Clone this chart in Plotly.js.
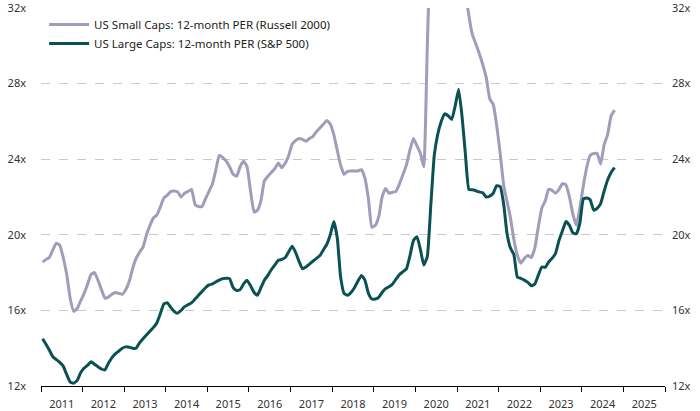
<!DOCTYPE html>
<html>
<head>
<meta charset="utf-8">
<script src="https://cdn.plot.ly/plotly-3.0.1.min.js"></script>
<style>html,body{margin:0;padding:0;background:#fff;}#chart{width:700px;height:411px;}</style>
</head>
<body>
<div id="chart"></div>
<script>
// Monthly observations, first month Jan 2011
const startYear = 2011;
const startMonth = 1;

const smallCapsName = "US Small Caps: 12-month PER (Russell 2000)";
const largeCapsName = "US Large Caps: 12-month PER (S&P 500)";

const smallCaps = [
  18.55,18.7,18.8,19.2,19.55,19.45,18.8,17.9,16.6,15.95,16.1,16.5,
  16.9,17.4,17.9,18.0,17.6,17.1,16.65,16.7,16.85,16.95,16.9,16.85,
  17.1,17.55,18.2,18.75,19.07,19.35,20.0,20.5,20.9,21.05,21.5,21.95,
  22.1,22.3,22.32,22.27,22.0,22.2,22.3,22.4,21.6,21.5,21.5,21.9,
  22.3,22.7,23.4,24.2,24.1,23.9,23.6,23.2,23.1,23.6,23.9,23.6,
  22.3,21.2,21.3,21.8,22.85,23.1,23.3,23.5,23.8,23.55,23.8,24.2,
  24.8,25.0,25.1,25.05,24.95,25.1,25.2,25.45,25.65,25.85,26.05,25.85,
  25.3,24.45,23.7,23.2,23.35,23.37,23.37,23.38,23.45,23.0,21.9,20.4,
  20.5,21.0,22.0,22.45,22.2,22.25,22.3,22.7,23.2,23.7,24.5,25.1,
  24.7,24.3,23.6,30.0,36.0,40.0,42.0,44.0,45.0,44.0,42.0,40.0,
  37.0,35.0,33.0,31.6,30.6,30.1,29.6,29.0,28.3,27.2,26.9,25.8,
  24.3,22.6,21.8,20.9,19.75,18.9,18.5,18.75,18.9,18.8,19.3,20.4,
  21.4,21.8,22.4,22.35,22.2,22.4,22.7,22.65,22.0,21.1,20.5,21.4,
  22.6,23.6,24.2,24.3,24.3,23.75,24.75,25.3,26.3,26.6
];

const largeCaps = [
  14.5,14.2,13.9,13.55,13.4,13.25,13.05,12.6,12.2,12.15,12.3,12.7,
  12.95,13.1,13.28,13.15,13.02,12.9,12.85,13.2,13.5,13.7,13.85,14.0,
  14.07,14.05,14.0,14.0,14.28,14.5,14.7,14.9,15.1,15.35,15.85,16.35,
  16.4,16.15,15.95,15.85,16.0,16.2,16.3,16.4,16.6,16.8,17.0,17.2,
  17.35,17.4,17.5,17.6,17.68,17.7,17.68,17.2,17.05,17.1,17.4,17.6,
  17.3,16.95,16.8,17.2,17.6,17.85,18.15,18.4,18.65,18.7,18.8,19.1,
  19.4,19.05,18.6,18.2,18.3,18.45,18.6,18.75,18.9,19.2,19.5,20.0,
  20.7,19.8,17.8,16.9,16.8,16.95,17.2,17.55,17.85,17.6,16.9,16.6,
  16.6,16.7,16.95,17.15,17.25,17.4,17.65,17.9,18.05,18.2,18.9,19.7,
  19.9,19.2,18.4,18.85,21.5,24.2,25.3,26.0,26.4,26.3,26.1,26.8,
  27.7,26.2,24.3,22.4,22.38,22.33,22.27,22.22,22.0,22.05,22.2,22.6,
  22.55,21.6,20.1,19.3,18.95,17.75,17.7,17.6,17.48,17.3,17.4,17.85,
  18.3,18.28,18.55,18.75,19.0,19.7,20.2,20.7,20.5,20.1,20.05,20.6,
  21.9,21.95,21.85,21.3,21.4,21.65,22.3,22.9,23.3,23.55
];

const yTicks = [12,16,20,24,28,32];
const yTickText = yTicks.map(v => v + 'x');
const gridTicks = [16,20,24,28];
const xRange = ['2011-01-01','2026-01-01'];

function monthDates(n){
  const out = [];
  for (let i = 0; i < n; i++){
    const t = (startMonth - 1) + i;
    const y = startYear + Math.floor(t / 12);
    const m = (t % 12) + 1;
    out.push(y + '-' + String(m).padStart(2,'0') + '-15');
  }
  return out;
}
const dates = monthDates(Math.max(smallCaps.length, largeCaps.length));

const FONT = 'Noto Sans, Open Sans, sans-serif';
const tickFont = {family: FONT, size: 11, color: '#333333'};
const legendFont = {family: FONT, size: 11.5, color: '#222222'};

const gridTrace = {x: dates.slice(0, largeCaps.length), y: largeCaps, yaxis: 'y3', mode: 'lines',
  line: {width: 0}, hoverinfo: 'skip', showlegend: false, opacity: 0};
const rightTrace = {x: dates.slice(0, largeCaps.length), y: largeCaps, yaxis: 'y2', mode: 'lines',
  line: {width: 0}, hoverinfo: 'skip', showlegend: false, opacity: 0};
const smallTrace = {x: dates.slice(0, smallCaps.length), y: smallCaps, name: smallCapsName, type: 'scatter', mode: 'lines',
  legend: 'legend', line: {color: '#A09CBA', width: 3, shape: 'spline', smoothing: 0.4}};
const largeTrace = {x: dates.slice(0, largeCaps.length), y: largeCaps, name: largeCapsName, type: 'scatter', mode: 'lines',
  legend: 'legend2', line: {color: '#0A5154', width: 3, shape: 'spline', smoothing: 0.4}};

const legendBase = {xanchor: 'left', yanchor: 'top', bgcolor: 'rgba(0,0,0,0)', font: legendFont, itemwidth: 40};

const layout = {
  width: 700, height: 411,
  margin: {l: 41, r: 35, t: 8, b: 25},
  paper_bgcolor: '#ffffff', plot_bgcolor: 'rgba(0,0,0,0)',
  showlegend: true,
  legend: Object.assign({x: 0.005, y: 0.9947}, legendBase),
  legend2: Object.assign({x: 0.005, y: 0.9447}, legendBase),
  xaxis: {type: 'date', range: xRange, dtick: 'M12', tick0: '2011-01-01', ticklabelmode: 'period',
          tickformat: '%Y', ticks: 'outside', ticklen: 5, tickcolor: '#000', tickwidth: 1,
          showline: true, linecolor: '#000', linewidth: 1, showgrid: false, zeroline: false,
          ticklabelstandoff: 3, tickfont: tickFont, fixedrange: true},
  yaxis: {range: [12, 32], tickmode: 'array', tickvals: yTicks, ticktext: yTickText, showgrid: false, zeroline: false,
          showline: false, ticks: '', ticklabelstandoff: 14, ticklabeloverflow: 'allow', tickfont: tickFont},
  yaxis2: {range: [12, 32], tickmode: 'array', tickvals: yTicks, ticktext: yTickText, overlaying: 'y', side: 'right',
           showgrid: false, zeroline: false, showline: false, ticks: '', ticklabelstandoff: 6,
           ticklabeloverflow: 'allow', tickfont: tickFont},
  yaxis3: {range: [12, 32], tickmode: 'array', tickvals: gridTicks, overlaying: 'y', showticklabels: false,
           showgrid: true, gridcolor: '#c8c8c8', griddash: 'dash', gridwidth: 1, zeroline: false, showline: false}
};

Plotly.newPlot('chart', [gridTrace, rightTrace, smallTrace, largeTrace], layout, {staticPlot: true, displayModeBar: false});
</script>
</body>
</html>
